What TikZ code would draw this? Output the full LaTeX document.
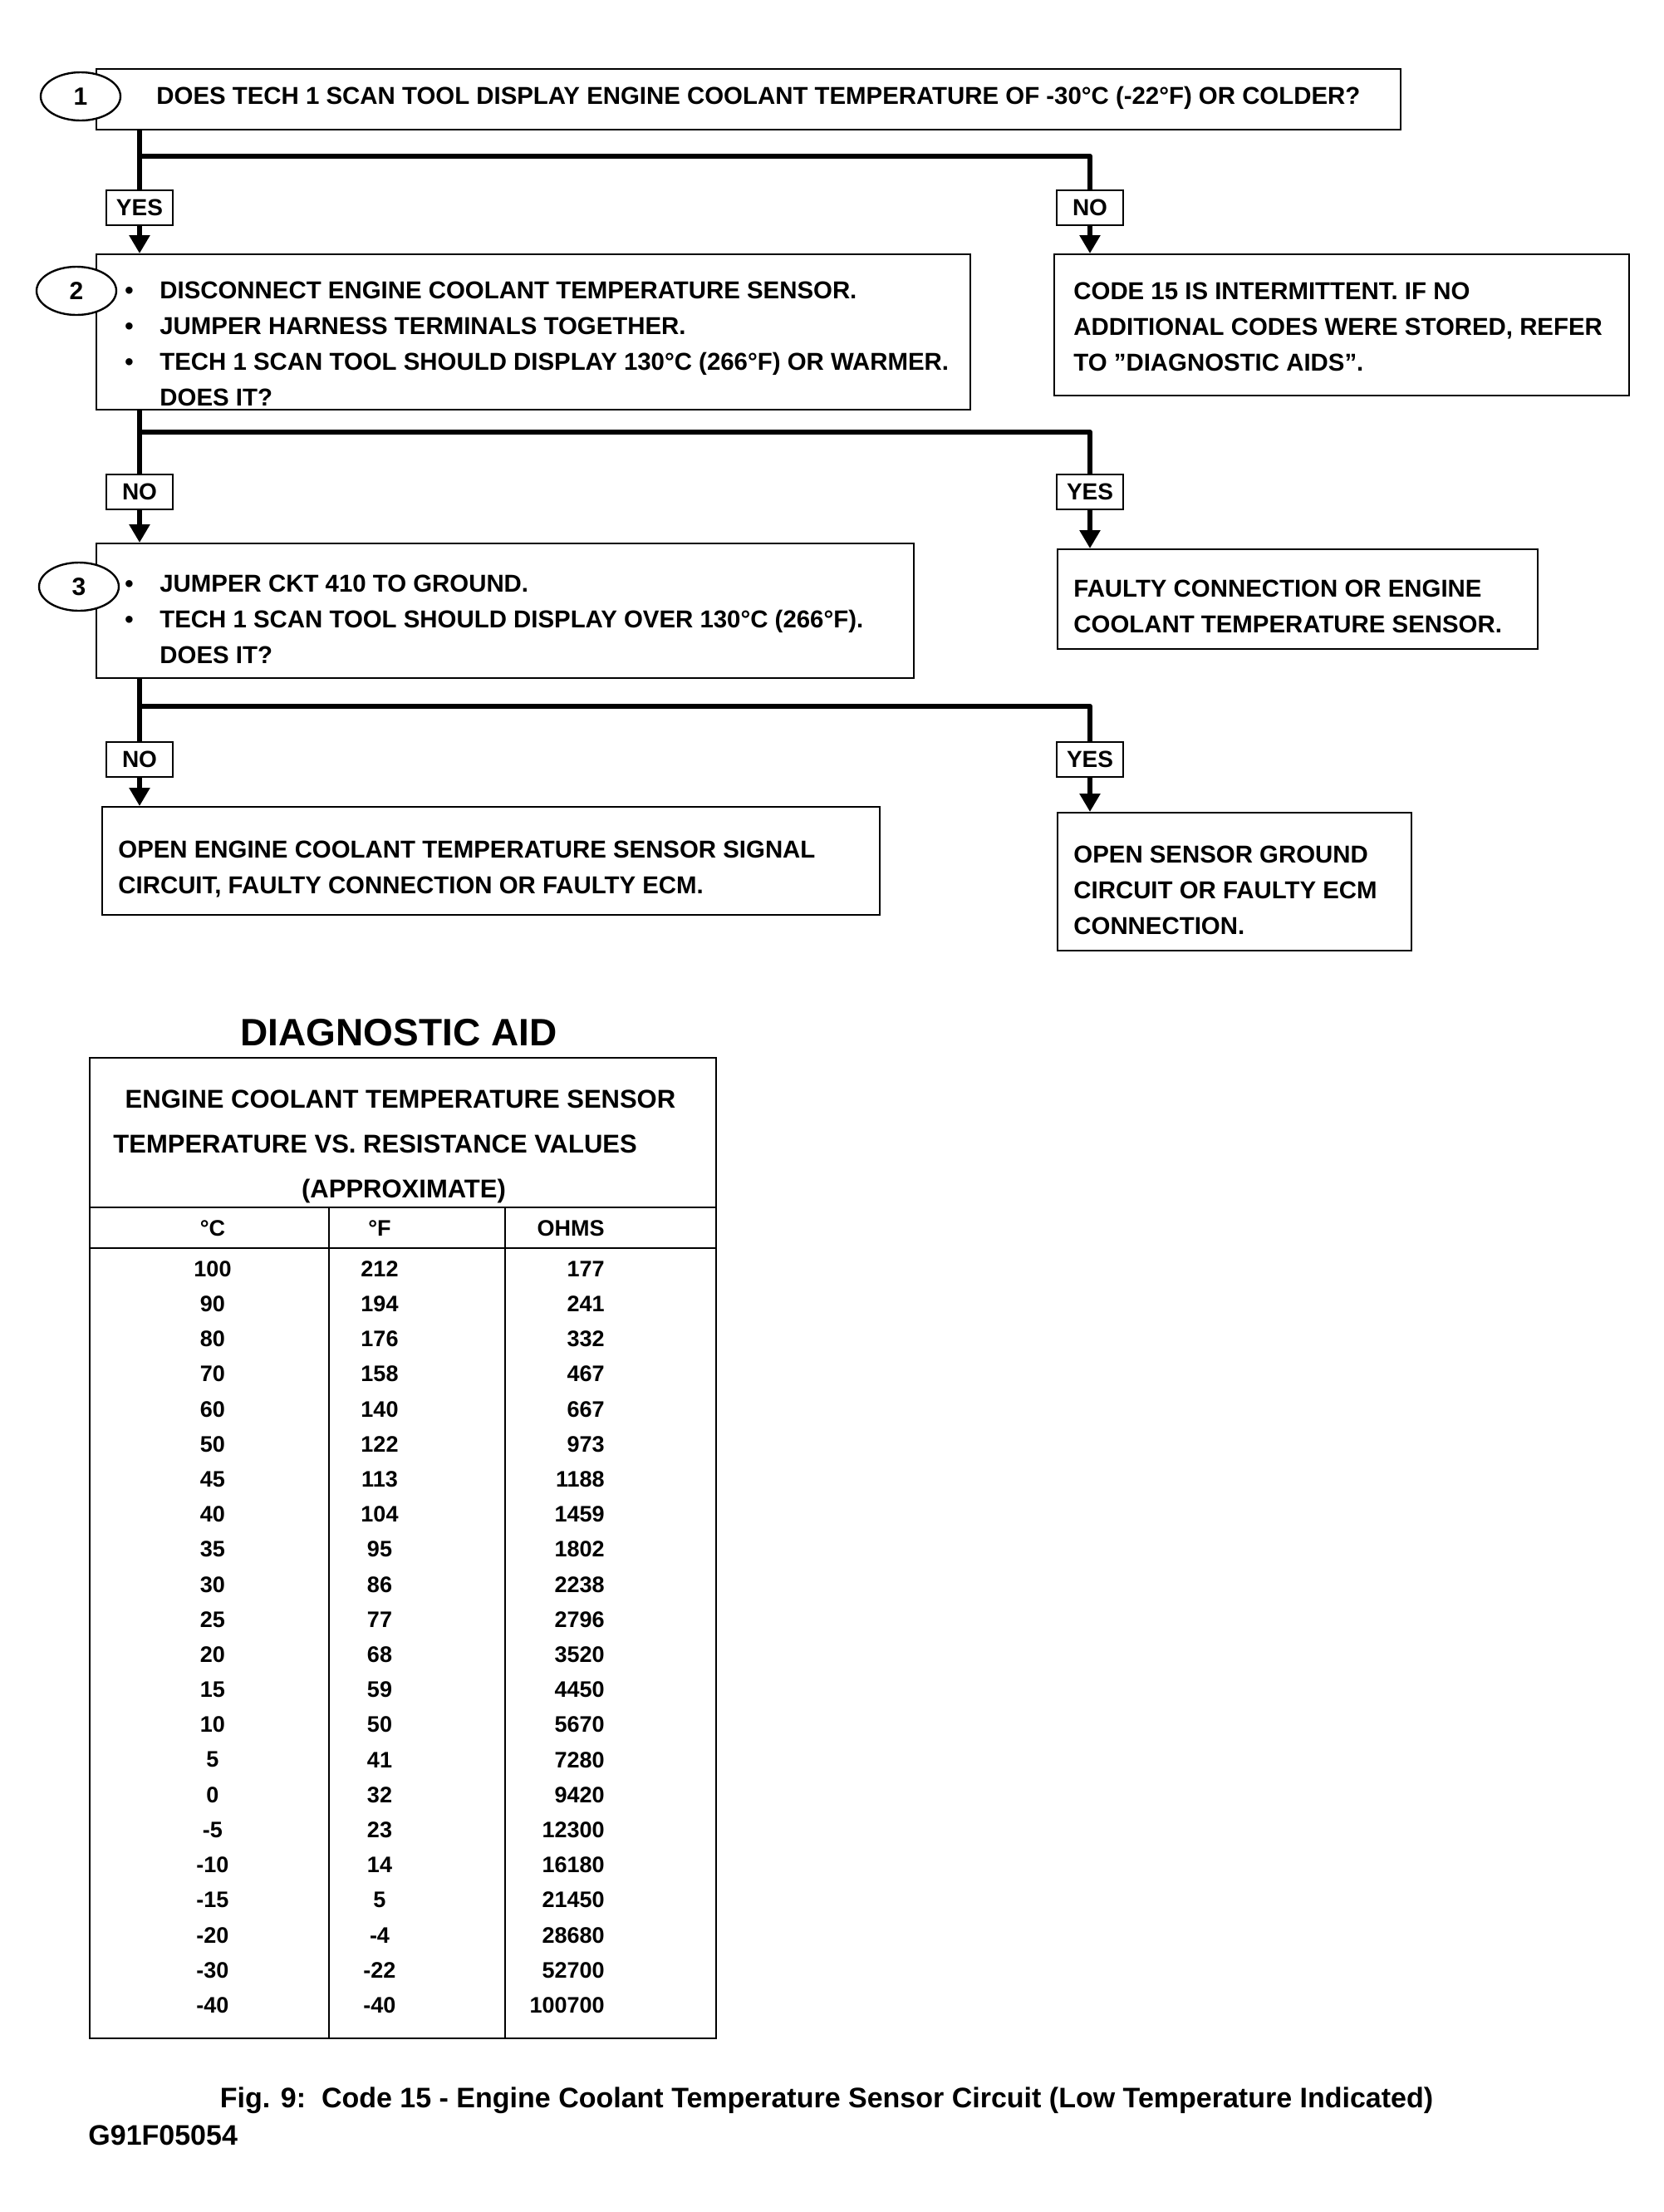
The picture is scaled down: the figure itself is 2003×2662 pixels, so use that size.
\documentclass[tikz,border=0pt]{standalone}
\usepackage{fontspec}
\setmainfont{Liberation Sans}
\usetikzlibrary{arrows.meta,shapes.geometric}
\begin{document}
\begin{tikzpicture}[x=0.5pt,y=-0.5pt,
  boxst/.style={draw, line width=1pt, inner sep=0pt, anchor=north west},
  txt/.style={inner sep=0pt, align=left, font=\fontsize{14.7}{21.5}\selectfont\bfseries, anchor=west},
  lab/.style={draw, line width=0.8pt, inner sep=2pt, minimum width=40pt, minimum height=21pt, font=\fontsize{14}{16}\selectfont\bfseries},
  numst/.style={draw, line width=1.2pt, ellipse, fill=white, minimum width=48pt, minimum height=29pt, inner sep=0pt, font=\fontsize{15}{16}\selectfont\bfseries},
  bar/.style={line width=3.2pt, line join=round},
  arr/.style={line width=3.2pt, -{Triangle[width=12pt,length=11pt]}},
  cell/.style={inner sep=0pt, font=\fontsize{13.5}{16}\selectfont\bfseries},
  thead/.style={inner sep=0pt, font=\fontsize{15.5}{18}\selectfont\bfseries},
]
\useasboundingbox (0,0) rectangle (2003,2662);
\fill[white] (0,0) rectangle (2003,2662);

% ---------- step boxes ----------
\node[boxst, minimum width=785pt, minimum height=36.5pt] (b1) at (115,82) {};
\node[numst] (n1) at (97,116) {1};
\node[txt] (t1) at (188,118) {DOES TECH 1 SCAN TOOL DISPLAY ENGINE COOLANT TEMPERATURE OF -30°C (-22°F) OR COLDER?};

\newcommand{\bl}{\makebox[21pt][l]{\textbullet}}
\newcommand{\nb}{\hspace*{21pt}}

\node[boxst, minimum width=526pt, minimum height=93.5pt] (b2) at (115,305) {};
\node[numst] (n2) at (92,350) {2};
\node[txt] (t2) at (150,414) {\bl DISCONNECT ENGINE COOLANT TEMPERATURE SENSOR.\\
\bl JUMPER HARNESS TERMINALS TOGETHER.\\
\bl TECH 1 SCAN TOOL SHOULD DISPLAY 130°C (266°F) OR WARMER.\\
\nb DOES IT?};

\node[boxst, minimum width=492pt, minimum height=81pt] (b3) at (115,653) {};
\node[numst] (n3) at (95,706) {3};
\node[txt] (t3) at (150,745) {\bl JUMPER CKT 410 TO GROUND.\\
\bl TECH 1 SCAN TOOL SHOULD DISPLAY OVER 130°C (266°F).\\
\nb DOES IT?};

% ---------- result boxes ----------
\node[boxst, minimum width=346pt, minimum height=85pt] (r1) at (1268,305) {};
\node[txt] (tr1) at (1292,393) {CODE 15 IS INTERMITTENT. IF NO\\
ADDITIONAL CODES WERE STORED, REFER\\
TO "DIAGNOSTIC AIDS".};

\node[boxst, minimum width=289pt, minimum height=60pt] (r2) at (1272,660) {};
\node[txt] (tr2) at (1292,730) {FAULTY CONNECTION OR ENGINE\\
COOLANT TEMPERATURE SENSOR.};

\node[boxst, minimum width=468pt, minimum height=65pt] (r4) at (122,970) {};
\node[txt] (tr4) at (142,1046) {OPEN ENGINE COOLANT TEMPERATURE SENSOR SIGNAL\\
CIRCUIT, FAULTY CONNECTION OR FAULTY ECM.};

\node[boxst, minimum width=213pt, minimum height=83pt] (r3) at (1272,977) {};
\node[txt] (tr3) at (1292,1071) {OPEN SENSOR GROUND\\
CIRCUIT OR FAULTY ECM\\
CONNECTION.};

% ---------- branch labels ----------
\node[lab] (y1) at (168,250) {YES};
\node[lab] (x1) at (1312,250) {NO};
\node[lab] (y2) at (168,592) {NO};
\node[lab] (x2) at (1312,592) {YES};
\node[lab] (y3) at (168,914) {NO};
\node[lab] (x3) at (1312,914) {YES};

\coordinate (j1) at (168,188);
\coordinate (j2) at (168,520);
\coordinate (j3) at (168,850);

% ---------- connectors ----------
\draw[bar] (b1.south -| y1) -- (y1.north);
\draw[bar] (j1) -| (x1.north);
\draw[arr] (y1.south) -- (b2.north -| y1);
\draw[arr] (x1.south) -- (r1.north -| x1);

\draw[bar] (b2.south -| y2) -- (y2.north);
\draw[bar] (j2) -| (x2.north);
\draw[arr] (y2.south) -- (b3.north -| y2);
\draw[arr] (x2.south) -- (r2.north -| x2);

\draw[bar] (b3.south -| y3) -- (y3.north);
\draw[bar] (j3) -| (x3.north);
\draw[arr] (y3.south) -- (r4.north -| y3);
\draw[arr] (x3.south) -- (r3.north -| x3);

% ---------- diagnostic aid table ----------
\node[inner sep=0pt, font=\fontsize{23}{26}\selectfont\bfseries] (ttl) at (480,1243) {DIAGNOSTIC AID};
\node[boxst, minimum width=377pt, minimum height=590pt] (tbl) at (107,1272) {};
\node[thead] (h1) at (482,1323) {ENGINE COOLANT TEMPERATURE SENSOR};
\node[thead, anchor=west] (h2) at (136,1377) {TEMPERATURE VS. RESISTANCE VALUES};
\node[thead] (h3) at (486,1433) {(APPROXIMATE)};
\coordinate (l1) at (0,1453);
\coordinate (l2) at (0,1502);
\coordinate (s1) at (396,1453);
\coordinate (s2) at (608,1453);
\draw[line width=1pt] (tbl.west |- l1) -- (tbl.east |- l1);
\draw[line width=1pt] (tbl.west |- l2) -- (tbl.east |- l2);
\draw[line width=1pt] (s1) -- (s1 |- tbl.south);
\draw[line width=1pt] (s2) -- (s2 |- tbl.south);
\node[cell] (hc) at (256,1478) {°C};
\node[cell] (hf) at (457,1478) {°F};
\node[cell, anchor=east] (ho) at (728,1478) {OHMS};

\foreach \c/\f/\o [count=\i from 0] in {100/212/177, 90/194/241, 80/176/332, 70/158/467, 60/140/667, 50/122/973, 45/113/1188, 40/104/1459, 35/95/1802, 30/86/2238, 25/77/2796, 20/68/3520, 15/59/4450, 10/50/5670, 5/41/7280, 0/32/9420, -5/23/12300, -10/14/16180, -15/5/21450, -20/-4/28680, -30/-22/52700, -40/-40/100700}{
  \pgfmathsetmacro{\yy}{1527+42.2*\i}
  \node[cell] (rc\i) at (256,\yy) {\c};
  \node[cell] (rf\i) at (457,\yy) {\f};
  \node[cell, anchor=east] (ro\i) at (728,\yy) {\o};
}

% ---------- caption ----------
\node[inner sep=0pt, font=\fontsize{17}{20}\selectfont\bfseries] (cap) at (995,2528) {Fig. 9:\ \ Code 15 - Engine Coolant Temperature Sensor Circuit (Low Temperature Indicated)};
\node[inner sep=0pt, font=\fontsize{17}{18}\selectfont\bfseries, anchor=west] (fid) at (106,2570) {G91F05054};
\end{tikzpicture}
\end{document}
